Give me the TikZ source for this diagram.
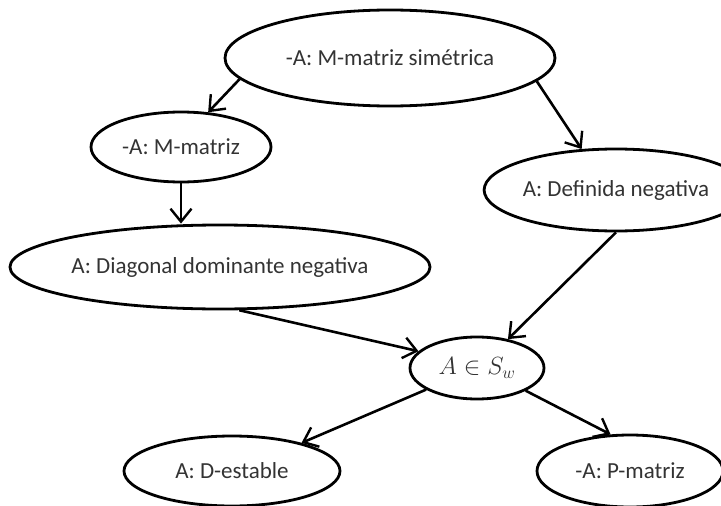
\documentclass[tikz,border=0pt]{standalone}
\usepackage{amsmath}
\usepackage{fontspec}
\setmainfont{Carlito}
\usetikzlibrary{shapes.geometric,arrows.meta}

\begin{document}
\begin{tikzpicture}[x=1pt, y=-1pt, auto,
		node_style/.style={ellipse,draw=black,line width=2.8pt,inner sep=0pt,text=black!80,font=\fontsize{23}{27}\selectfont},
		edge_style/.style={draw=black,line width=2.6pt,-{Straight Barb[length=13pt,width=21pt,line width=2.4pt]}}]
		
		\useasboundingbox (0,0) rectangle (721,506);
		
		\node[node_style,minimum width=330pt,minimum height=96pt] (n0) at (390,58)  {-A: M-matriz simétrica};
		\node[node_style,minimum width=180pt,minimum height=70pt] (n1) at (181,147)  {-A: M-matriz};
		\node[node_style,minimum width=208pt,minimum height=82pt] (n2) at (616,190)  {A: Definida negativa};
		\node[node_style,minimum width=416pt,minimum height=84pt] (n3) at (220,267)  {A: Diagonal dominante negativa};
		\node[node_style,minimum width=134pt,minimum height=62pt] (n4) at (477,368)  {$A\in S_w$};
		\node[node_style,minimum width=216pt,minimum height=70pt] (n5) at (232,471)  {A: D-estable};
		\node[node_style,minimum width=186pt,minimum height=72pt] (n6) at (630,471)  {-A: P-matriz};
		
		\draw[edge_style]  (n0.188) -- (n1.52);
		\draw[edge_style]  (n1.south) -- (n1.south |- n3.north);
		\draw[edge_style]  (n0.351) -- (n2.130);
		\draw[edge_style]  (n3.294) -- (n4.164);
		\draw[edge_style]  (n2.270) -- (n4.43);
		\draw[edge_style]  (n4.203) -- (n5.22);
		\draw[edge_style]  (n4.335) -- (n6.118);
		
\end{tikzpicture}
\end{document}
